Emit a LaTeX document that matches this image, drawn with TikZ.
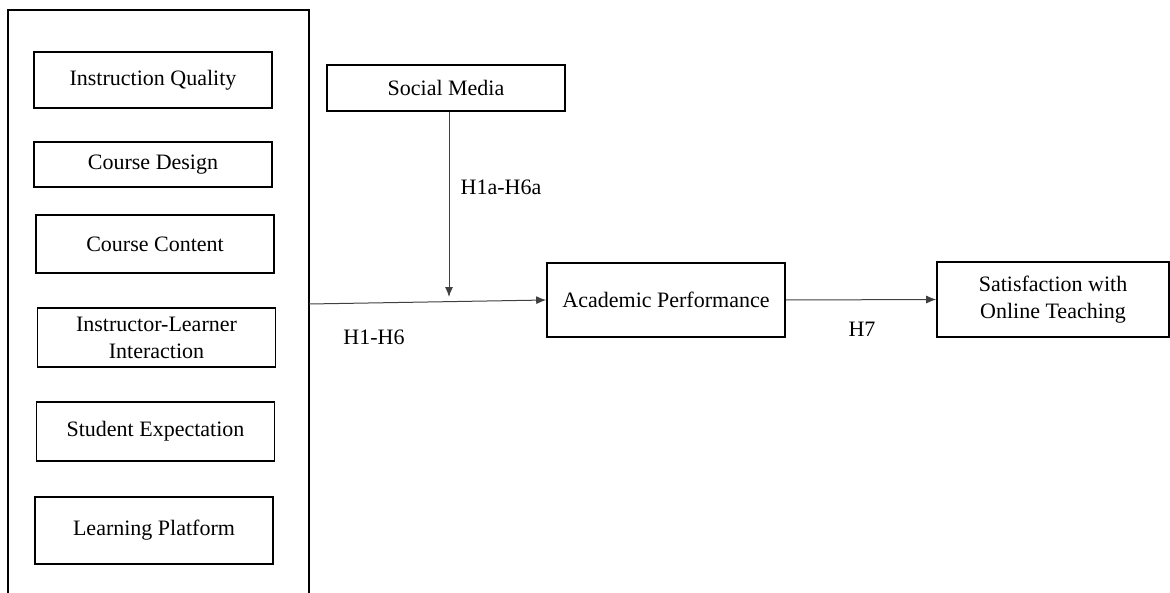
\documentclass[tikz,border=0pt]{standalone}
\usepackage{fontspec}
\setmainfont{Liberation Serif}
\usetikzlibrary{arrows.meta}

\tikzset{
    factor/.style={draw, line width=0.8pt, minimum width=119pt, align=center,
        inner sep=2pt, font=\fontsize{11}{13.5}\selectfont},
    link/.style={-{Latex[length=5pt,width=4pt]}, draw=black!75, line width=0.5pt},
    hyp/.style={font=\fontsize{11}{13.5}\selectfont}
}

\begin{document}
\begin{tikzpicture}[x=0.5pt, y=-0.5pt]
    \useasboundingbox (0,0) rectangle (1170,593);

    % Frame round the factors (open at the bottom)
    \draw[line width=0.8pt] (8,593) -- (8,10) -- (309,10) -- (309,593);
    \coordinate (frame) at (309,304);

    % Factors
    \node[factor, minimum height=28pt] (quality) at (153,80) {Instruction Quality};
    \node[factor, minimum height=22.5pt] (design) at (153,164.5) {Course Design};
    \node[factor, minimum height=29pt] (content) at (155,244) {Course Content};
    \node[factor, minimum height=29.5pt] (interact) at (156.5,337.5) {Instructor-Learner\\Interaction};
    \node[factor, minimum height=29.5pt] (expect) at (155.5,431.5) {Student Expectation};
    \node[factor, minimum height=33.5pt] (platform) at (154,530.5) {Learning Platform};

    % Moderator and outcomes
    \node[factor, minimum height=23pt] (social) at (446,88) {Social Media};
    \node[factor, minimum height=37pt] (perform) at (666,300) {Academic Performance};
    \node[factor, minimum width=116pt, minimum height=37.5pt] (satisfy) at (1053,299.5) {Satisfaction with\\Online Teaching};

    % Arrows
    \draw[link] (frame) -- (perform.west);
    \coordinate (meet) at (449,297);
    \draw[link] (social.south -| meet) -- (meet);
    \draw[link] (perform.east) -- (satisfy.west);

    % Hypotheses
    \node[hyp] (hmod) at (501,187) {H1a-H6a};
    \node[hyp] (hmain) at (374,337) {H1-H6};
    \node[hyp] (hout) at (862,329) {H7};
\end{tikzpicture}
\end{document}
